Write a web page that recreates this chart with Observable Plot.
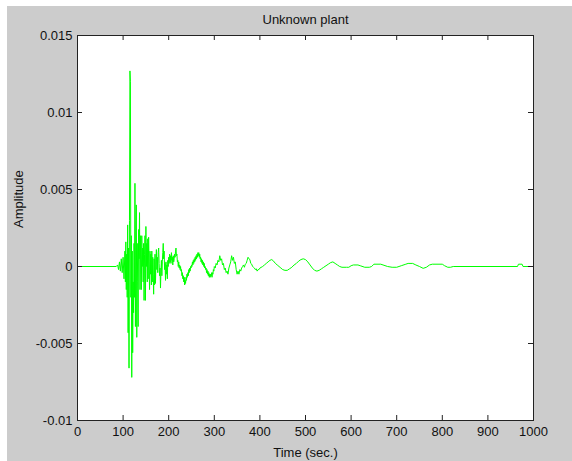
<!DOCTYPE html>
<html>
<head>
<meta charset="utf-8">
<script src="https://cdn.jsdelivr.net/npm/d3@7"></script>
<script src="https://cdn.jsdelivr.net/npm/@observablehq/plot@0.6"></script>
<style>
  html, body { margin: 0; padding: 0; background: #ffffff; }
  #chart { padding: 6px 0 0 7px; }
  #chart svg { display: block; }
</style>
</head>
<body>
<div id="chart"></div>
<script>
const title = "Unknown plant";
const xLabel = "Time (sec.)";
const yLabel = "Amplitude";
const xTicks = [0, 100, 200, 300, 400, 500, 600, 700, 800, 900, 1000];
const yTicks = [-0.01, -0.005, 0, 0.005, 0.01, 0.015];

// [time (sec.), amplitude (x 1e-3)], in segments
const segQuiet = [[0, 0], [85, 0]];
const segOnset = [
  [88, 0.1], [90, -0.2], [92, 0.3], [94, -0.3], [96, 0.5], [98, -0.4], [100, 0.6], [102, -0.8],
  [104, 1.0], [105, -1.0], [106, 1.6], [107, -1.5], [108, 0.8], [109, -2.0]
];
const segBurst = [
  [110, 2.7], [111, -4.3], [112, 1.2], [113, -6.6], [114, 3.0], [115, 12.7], [116, 12.0], [117, -2.0],
  [118, 2.0], [119, -7.2], [120, 1.0], [121, -5.6], [122, -1.0], [123, -3.0], [124, 1.5], [125, -2.0],
  [126, 5.4], [127, -3.9], [128, 2.5], [129, 4.0], [130, -4.6], [131, 1.5], [132, -1.0], [133, -3.9],
  [134, 2.4], [135, 0.5], [136, 3.5], [137, -1.5], [138, 2.0], [139, -0.5], [140, -1.5], [141, 2.0],
  [142, 0.0], [143, 1.2], [144, -1.0], [145, 1.5], [146, -2.2], [147, 0.8], [148, 2.0], [149, -2.2],
  [150, 2.6], [151, 0.0], [152, 1.5], [153, -1.0], [154, 1.8], [155, -0.8], [156, 1.9], [157, 0.3],
  [158, -1.5], [159, 1.0]
];
const segDecay = [
  [160, -0.5], [161, 0.8], [162, -1.2], [163, 1.0], [164, -1.0], [165, 0.6], [166, -0.5], [167, -1.8],
  [168, 0.5], [169, -1.2], [170, 0.8], [171, -1.1], [172, 0.3], [173, 1.1], [174, -0.2], [175, 0.6],
  [176, -0.4], [177, 0.9], [178, 1.2], [179, 0.2], [180, -0.6], [181, -0.1], [182, -1.4], [183, -0.3],
  [184, 0.4], [185, -0.6], [186, 0.3], [187, 0.9], [188, 1.5], [189, 0.5], [190, 1.0], [191, -0.2],
  [192, 0.2], [193, -0.9], [194, 0.3], [195, -0.5], [196, 0.1], [197, -0.8], [198, 0.4], [199, 0.0],
  [200, 0.6], [201, 0.2], [202, 0.8], [203, 0.3], [204, 0.7], [205, 0.2], [206, 0.9], [207, 0.4],
  [208, 0.6], [209, 0.1], [210, 0.7], [211, 0.3], [212, 0.5], [213, 0.8], [214, 0.6], [215, 1.0],
  [216, 1.2], [217, 0.7], [218, 0.8], [219, 0.3], [220, 0.4], [221, 0.0], [222, 0.3], [223, -0.1],
  [224, 0.1], [225, -0.2], [226, 0.0], [227, -0.3], [228, -0.2], [229, -0.6], [230, -0.4], [231, -0.8],
  [232, -0.6], [233, -1.0], [234, -0.7], [235, -1.2], [236, -0.9], [237, -1.1], [238, -0.7], [239, -0.9],
  [240, -0.5], [241, -0.7], [242, -0.4], [243, -0.6], [244, -0.2], [245, -0.4], [246, -0.1], [247, -0.3],
  [248, 0.0], [249, -0.1], [250, 0.1], [251, 0.0], [252, 0.3], [253, 0.1], [254, 0.4], [255, 0.2],
  [256, 0.5], [257, 0.3], [258, 0.6], [259, 0.4], [260, 0.7], [261, 0.5], [262, 0.8], [263, 0.6],
  [264, 0.9], [265, 0.7], [266, 0.9], [267, 0.6], [268, 0.8], [269, 0.5], [270, 0.6], [271, 0.3],
  [272, 0.5], [273, 0.2], [274, 0.4], [275, 0.1], [276, 0.3], [277, 0.0], [278, 0.2], [279, -0.1],
  [280, 0.0], [281, -0.2], [282, -0.1], [283, -0.4], [284, -0.2], [285, -0.5], [286, -0.3], [287, -0.6],
  [288, -0.4], [289, -0.7], [290, -0.5], [291, -0.7], [292, -0.5], [293, -0.6], [294, -0.4], [295, -0.7],
  [296, -0.4], [297, -0.5], [298, -0.2], [299, -0.3], [300, 0.0]
];
const segRing = [
  [302, -0.1], [304, 0.2], [306, 0.1], [308, 0.4], [310, 0.3], [312, 0.7], [314, 0.4], [316, 0.5],
  [318, 0.1], [320, 0.2], [322, -0.2], [324, -0.1], [326, -0.4], [328, -0.3], [330, -0.5], [332, -0.1],
  [334, 0.1], [336, 0.3], [338, 0.7], [340, 0.4], [342, 0.6], [344, 0.2], [346, 0.3], [348, -0.2],
  [350, -0.5], [352, -0.3], [354, -0.5], [356, -0.2], [358, -0.3], [360, -0.1], [362, 0.0], [364, 0.1],
  [366, -0.05], [368, 0.15], [370, 0.2], [372, 0.4], [374, 0.6], [376, 0.5], [378, 0.45], [380, 0.2],
  [382, 0.15], [384, 0.0], [386, -0.05], [388, -0.1], [390, -0.2], [392, -0.15], [394, -0.3], [396, -0.2],
  [398, -0.2], [400, -0.1]
];
const segTail = [
  [406, 0.0], [410, 0.1], [414, 0.2], [418, 0.3], [422, 0.4], [426, 0.45], [430, 0.35], [434, 0.2],
  [438, 0.1], [442, 0.0], [446, -0.1], [450, -0.2], [455, -0.25], [460, -0.25], [465, -0.15], [470, -0.05],
  [475, 0.1], [480, 0.2], [485, 0.35], [490, 0.45], [495, 0.5], [500, 0.45], [505, 0.3], [510, 0.1],
  [515, -0.1], [520, -0.25], [525, -0.3], [530, -0.25], [535, -0.15], [540, -0.05], [545, 0.05], [550, 0.15],
  [555, 0.25], [560, 0.3], [565, 0.2], [570, 0.1], [575, 0.0], [580, -0.05], [590, -0.05], [595, -0.05],
  [600, 0.05], [605, 0.1], [615, 0.1], [620, 0.05], [630, -0.05], [640, -0.05], [645, 0.0], [650, 0.15],
  [665, 0.15], [670, 0.1], [680, 0.0], [690, -0.05], [700, -0.05], [710, 0.05], [720, 0.15], [725, 0.2],
  [735, 0.2], [742, 0.1], [750, 0.0], [758, -0.12], [765, -0.05], [772, 0.1], [778, 0.15], [800, 0.15],
  [805, 0.05], [812, -0.05], [818, -0.05], [824, 0.0], [965, 0.0], [967, 0.15], [975, 0.15], [977, 0.0],
  [1000, 0.0]
];

const MILLI = 1e-3;
const data = [...segQuiet, ...segOnset, ...segBurst, ...segDecay, ...segRing, ...segTail]
  .map(([t, m]) => ({t, v: m * MILLI}));

const W = 565, H = 455;
const mL = 70, mR = 39, mT = 29, mB = 41;
const plotW = W - mL - mR, plotH = H - mT - mB;
const tickLen = 5;
const axisColor = "#222222";
const font = "'Liberation Sans', Arial, sans-serif";

const chart = Plot.plot({
  width: W,
  height: H,
  marginLeft: mL,
  marginRight: mR,
  marginTop: mT,
  marginBottom: mB,
  style: {background: "#cccccc", fontFamily: font, fontSize: "13px", color: "#000", overflow: "visible"},
  x: {domain: [0, 1000], ticks: xTicks},
  y: {domain: [-0.01, 0.015], ticks: yTicks},
  marks: [
    Plot.frame({fill: "white", stroke: null}),
    Plot.line(data, {x: "t", y: "v", stroke: "#00ff00", strokeWidth: 1}),
    Plot.tickX(xTicks, {x: d => d, stroke: axisColor, insetTop: plotH - tickLen}),
    Plot.tickX(xTicks, {x: d => d, stroke: axisColor, insetBottom: plotH - tickLen}),
    Plot.tickY(yTicks, {y: d => d, stroke: axisColor, insetRight: plotW - tickLen}),
    Plot.tickY(yTicks, {y: d => d, stroke: axisColor, insetLeft: plotW - tickLen}),
    Plot.frame({stroke: axisColor, fill: null}),
    Plot.axisX(xTicks, {tickSize: 0, tickPadding: 6, label: null, tickFormat: d => String(d), fill: "#111"}),
    Plot.axisY(yTicks, {tickSize: 0, tickPadding: 5, label: null, tickFormat: d => String(d), fill: "#111"}),
    Plot.text([title], {frameAnchor: "top", dy: -16, lineAnchor: "middle", fill: "#111", fontSize: 13}),
    Plot.text([xLabel], {frameAnchor: "bottom", dy: 32, lineAnchor: "middle", fill: "#111", fontSize: 13}),
    Plot.text([yLabel], {frameAnchor: "left", dx: -59, rotate: -90, lineAnchor: "middle", fill: "#111", fontSize: 13})
  ]
});

document.getElementById("chart").appendChild(chart);
</script>
</body>
</html>
